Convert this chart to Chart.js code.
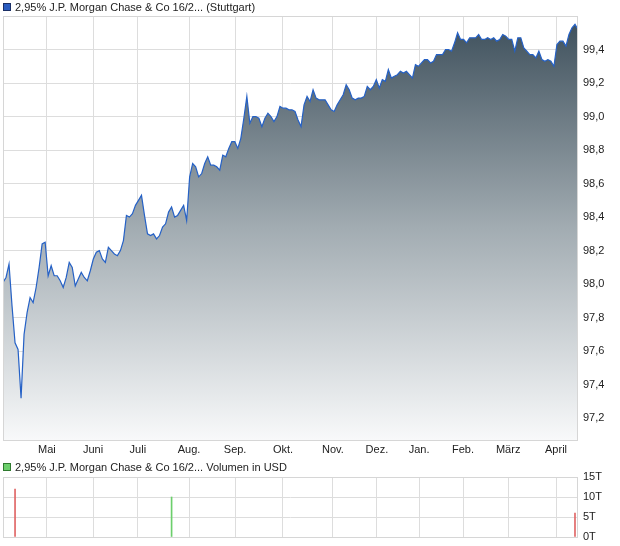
<!DOCTYPE html>
<html lang="de">
<head>
    <meta charset="UTF-8">
    <title>2,95% J.P. Morgan Chase & Co 16/2...</title>
    <script src="https://cdn.jsdelivr.net/npm/chart.js"></script>
    <style>
        body { margin: 0; background: #fff; font-family: "Liberation Sans", Arial, sans-serif; }
        .wrap { position: relative; width: 620px; height: 546px; }
        .legend { position: absolute; left: 3px; font-size: 11px; color: #222; line-height: 12px; white-space: nowrap; }
        .legend i { display: inline-block; width: 6px; height: 6px; margin-right: 4px; border: 1px solid; vertical-align: 0px; }
        #priceBox { position: absolute; left: 0; top: 0; }
        #volBox { position: absolute; left: 0; top: 460px; }
    </style>
</head>

<body>
    <div class="wrap">
        <div id="priceBox"><canvas id="priceChart" width="620" height="460"></canvas></div>
        <div id="volBox"><canvas id="volChart" width="620" height="86"></canvas></div>
        <div class="legend" style="top:1px"><i style="background:#2a5cc0;border-color:#1b2f66"></i>2,95% J.P. Morgan Chase &amp; Co 16/2... (Stuttgart)</div>
        <div class="legend" style="top:461px"><i style="background:#6ccf6c;border-color:#2f7a2f"></i>2,95% J.P. Morgan Chase &amp; Co 16/2... Volumen in USD</div>
    </div>

    <script>
        // price, one value every ~3 px of the original chart
        const prices = [
            98.01, 98.04, 98.12, 97.87, 97.65, 97.61, 97.32, 97.70, 97.83, 97.92,
            97.89, 97.98, 98.10, 98.24, 98.25, 98.05, 98.11, 98.05, 98.05, 98.02,
            97.98, 98.04, 98.13, 98.10, 97.99, 98.03, 98.07, 98.04, 98.02, 98.08,
            98.15, 98.19, 98.20, 98.15, 98.13, 98.22, 98.20, 98.18, 98.17, 98.20,
            98.26, 98.41, 98.40, 98.42, 98.47, 98.50, 98.53, 98.41, 98.30, 98.29,
            98.30, 98.27, 98.29, 98.34, 98.36, 98.43, 98.46, 98.40, 98.41, 98.44,
            98.47, 98.38, 98.64, 98.72, 98.70, 98.64, 98.66, 98.72, 98.76, 98.71,
            98.71, 98.70, 98.68, 98.77, 98.76, 98.81, 98.85, 98.85, 98.81, 98.87,
            98.99, 99.12, 98.96, 99.00, 99.00, 98.99, 98.94, 98.99, 99.02, 99.00,
            98.97, 99.00, 99.06, 99.05, 99.05, 99.04, 99.04, 99.03, 98.98, 98.94,
            99.07, 99.12, 99.09, 99.16, 99.11, 99.10, 99.10, 99.10, 99.07, 99.04,
            99.03, 99.07, 99.10, 99.13, 99.19, 99.16, 99.11, 99.10, 99.11, 99.11,
            99.12, 99.18, 99.16, 99.18, 99.22, 99.17, 99.22, 99.21, 99.28, 99.23,
            99.24, 99.25, 99.27, 99.26, 99.27, 99.25, 99.23, 99.31, 99.30, 99.32,
            99.34, 99.34, 99.32, 99.33, 99.37, 99.37, 99.37, 99.40, 99.40, 99.39,
            99.44, 99.50, 99.46, 99.46, 99.44, 99.47, 99.47, 99.47, 99.49, 99.46,
            99.46, 99.47, 99.46, 99.47, 99.45, 99.46, 99.49, 99.48, 99.46, 99.46,
            99.39, 99.47, 99.47, 99.41, 99.39, 99.37, 99.37, 99.35, 99.39, 99.34,
            99.33, 99.34, 99.33, 99.30, 99.43, 99.45, 99.45, 99.42, 99.49, 99.53,
            99.55, 99.52
        ];

        const monthNames = ['Mai', 'Juni', 'Juli', 'Aug.', 'Sep.', 'Okt.', 'Nov.', 'Dez.', 'Jan.', 'Feb.', 'März', 'April'];
        const monthStarts = [14.6, 29.9, 44.8, 61.8, 77.1, 93.0, 109.6, 124.2, 138.2, 152.8, 167.8, 183.7];
        const priceTicks = [97.2, 97.4, 97.6, 97.8, 98.0, 98.2, 98.4, 98.6, 98.8, 99.0, 99.2, 99.4];

        // volume in thousand USD (T)
        const volIndex = [4, 56, 190];
        const volValues = [12, 10, 6];
        const volUp = [false, true, false];
        const volTicks = [0, 5, 10, 15];

        const gridColor = '#dddddd';
        const textColor = '#222';
        const tickFont = { family: '"Liberation Sans", Arial, sans-serif', size: 11 };

        const frame = {
            id: 'frame',
            afterDatasetsDraw(chart) {
                const a = chart.chartArea;
                const c = chart.ctx;
                c.save();
                c.strokeStyle = '#d6d6d6';
                c.lineWidth = 1;
                c.strokeRect(Math.round(a.left) + 0.5, Math.round(a.top) + 0.5, Math.round(a.right - a.left) - 1, Math.round(a.bottom - a.top));
                c.restore();
            }
        };

        function monthAxis(showLabels, height) {
            return {
                type: 'linear',
                min: 0,
                max: prices.length - 1,
                offset: false,
                afterBuildTicks: s => { s.ticks = monthStarts.map(v => ({ value: v })); },
                afterFit: s => { s.height = height; s.paddingLeft = 0; s.paddingRight = 0; },
                grid: { color: gridColor, drawTicks: false, offset: false },
                border: { display: false },
                ticks: {
                    display: showLabels,
                    autoSkip: false,
                    maxRotation: 0,
                    padding: 3,
                    color: textColor,
                    font: tickFont,
                    callback: (v, i) => monthNames[i]
                }
            };
        }

        function valueAxis(min, max, ticks, fmt) {
            return {
                position: 'right',
                min: min,
                max: max,
                afterBuildTicks: s => { s.ticks = ticks.map(v => ({ value: v })); },
                afterFit: s => { s.width = 42; s.paddingTop = 0; s.paddingBottom = 0; },
                grid: { color: gridColor, drawTicks: false },
                border: { display: false },
                ticks: { padding: 5, color: textColor, font: tickFont, callback: fmt }
            };
        }

        new Chart(document.getElementById('priceChart'), {
            type: 'line',
            data: {
                datasets: [{
                    data: prices.map((v, i) => ({ x: i, y: v })),
                    borderColor: '#2561c6',
                    borderWidth: 1.2,
                    pointRadius: 0,
                    tension: 0,
                    fill: 'start',
                    backgroundColor: ctx => {
                        const area = ctx.chart.chartArea;
                        if (!area) return 'rgba(0,0,0,0)';
                        const g = ctx.chart.ctx.createLinearGradient(0, area.top, 0, area.bottom);
                        g.addColorStop(0, '#3c4e5a');
                        g.addColorStop(0.5, '#a2acb2');
                        g.addColorStop(1, '#f8f9fa');
                        return g;
                    }
                }]
            },
            options: {
                responsive: false,
                animation: false,
                layout: { padding: { left: 3, top: 16, right: 0, bottom: 0 } },
                plugins: { legend: { display: false }, tooltip: { enabled: false } },
                scales: {
                    x: monthAxis(true, 20),
                    y: valueAxis(97.07, 99.6, priceTicks, v => v.toFixed(1).replace('.', ','))
                }
            },
            plugins: [frame]
        });

        new Chart(document.getElementById('volChart'), {
            type: 'bar',
            data: {
                datasets: [{
                    data: volIndex.map((x, k) => ({ x: x, y: volValues[k] })),
                    backgroundColor: volUp.map(u => u ? '#6ccf6c' : '#e06666'),
                    barThickness: 1
                }]
            },
            options: {
                responsive: false,
                animation: false,
                layout: { padding: { left: 3, top: 17, right: 0, bottom: 0 } },
                plugins: { legend: { display: false }, tooltip: { enabled: false } },
                scales: {
                    x: monthAxis(false, 9),
                    y: valueAxis(0, 15, volTicks, v => v + 'T')
                }
            },
            plugins: [frame]
        });
    </script>
</body>

</html>
